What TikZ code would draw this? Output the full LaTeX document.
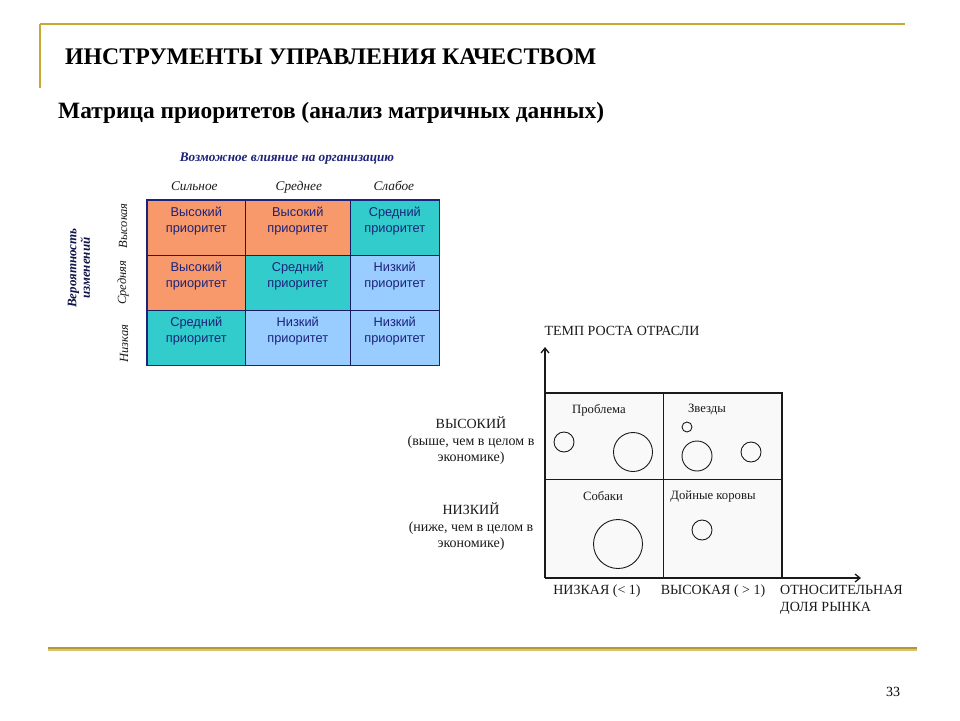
\documentclass[tikz,border=0pt]{standalone}
\usepackage{fontspec}
\setmainfont{Liberation Serif}
\newfontfamily\arialf{Liberation Sans}
\usetikzlibrary{arrows.meta}
\definecolor{gold}{HTML}{C9A835}
\definecolor{corange}{HTML}{F7996B}
\definecolor{cteal}{HTML}{33CCCC}
\definecolor{cblue}{HTML}{99CCFF}
\definecolor{navy}{HTML}{1B237A}
\definecolor{ink}{HTML}{1A1A1A}
\begin{document}
\begin{tikzpicture}[x=1pt,y=-1pt,
  cell/.style={draw=navy!80!black, line width=0.6pt, anchor=north west, inner sep=0pt, minimum height=55pt},
  celltext/.style={anchor=north, align=center, inner sep=0pt, text=navy, font=\arialf\fontsize{12.8}{16}\selectfont},
  colhead/.style={font=\itshape\fontsize{13.3}{15}\selectfont, text=ink, inner sep=0pt, anchor=base},
  rowhead/.style={font=\itshape\fontsize{12.5}{14}\selectfont, text=ink, inner sep=1pt, rotate=90},
  bcg/.style={font=\fontsize{14}{16.5}\selectfont, text=ink, inner sep=1pt, align=center},
  qlab/.style={font=\fontsize{12.7}{14}\selectfont, text=ink, inner sep=1pt},
  ball/.style={circle, draw=ink, line width=0.9pt, inner sep=0pt},
  quad/.style={draw=ink, line width=0.9pt, fill=gray!5, anchor=north west, inner sep=0pt},
  axis/.style={draw=ink, line width=2.2pt, -{Straight Barb[length=5pt,width=8pt,line width=1.3pt]}}
]
\useasboundingbox[fill=white] (0,0) rectangle (960,720);

% gold frame lines
\draw[gold, line width=2.5pt] (40,24) -- (905,24);
\draw[gold, line width=2pt] (40,24) -- (40,88);
\draw[gold!70, line width=4pt] (48,648.5) -- (917,648.5);
\draw[gold!90!black, line width=2pt] (48,647.5) -- (917,647.5);

% titles
\node[anchor=base west, inner sep=0pt, font=\bfseries\fontsize{23.8}{26}\selectfont] (title) at (65,64) {ИНСТРУМЕНТЫ УПРАВЛЕНИЯ КАЧЕСТВОМ};
\node[anchor=base west, inner sep=0pt, font=\bfseries\fontsize{23.4}{26}\selectfont] (subtitle) at (58,118) {Матрица приоритетов (анализ матричных данных)};

% priority matrix
\node[cell, fill=corange, minimum width=98pt] (c11) at (147,200) {};
\node[cell, fill=corange, minimum width=105pt] (c12) at (245,200) {};
\node[cell, fill=cteal, minimum width=89pt] (c13) at (350,200) {};
\node[cell, fill=corange, minimum width=98pt] (c21) at (147,255) {};
\node[cell, fill=cteal, minimum width=105pt] (c22) at (245,255) {};
\node[cell, fill=cblue, minimum width=89pt] (c23) at (350,255) {};
\node[cell, fill=cteal, minimum width=98pt] (c31) at (147,310) {};
\node[cell, fill=cblue, minimum width=105pt] (c32) at (245,310) {};
\node[cell, fill=cblue, minimum width=89pt] (c33) at (350,310) {};
\draw[navy, line width=1.3pt] (c11.north west) rectangle (c33.south east);

\node[celltext] (t11) at ([yshift=-6.5pt]c11.north) {Высокий\\приоритет};
\node[celltext] (t12) at ([yshift=-6.5pt]c12.north) {Высокий\\приоритет};
\node[celltext] (t13) at ([yshift=-6.5pt]c13.north) {Средний\\приоритет};
\node[celltext] (t21) at ([yshift=-6.5pt]c21.north) {Высокий\\приоритет};
\node[celltext] (t22) at ([yshift=-6.5pt]c22.north) {Средний\\приоритет};
\node[celltext] (t23) at ([yshift=-6.5pt]c23.north) {Низкий\\приоритет};
\node[celltext] (t31) at ([yshift=-6.5pt]c31.north) {Средний\\приоритет};
\node[celltext] (t32) at ([yshift=-6.5pt]c32.north) {Низкий\\приоритет};
\node[celltext] (t33) at ([yshift=-6.5pt]c33.north) {Низкий\\приоритет};

\node[colhead] (h1) at ([xshift=-2pt,yshift=10pt]c11.north) {Сильное};
\node[colhead] (h2) at ([xshift=1pt,yshift=10pt]c12.north) {Среднее};
\node[colhead] (h3) at ([xshift=-1pt,yshift=10pt]c13.north) {Слабое};
\node[anchor=base, font=\bfseries\itshape\fontsize{13.2}{15}\selectfont, text=navy, inner sep=0pt] (htop) at (287,161.5) {Возможное влияние на организацию};

\node[rowhead] (r1) at ([xshift=-24pt,yshift=2pt]c11.west) {Высокая};
\node[rowhead] (r2) at ([xshift=-24pt]c21.west) {Средняя};
\node[rowhead] (r3) at ([xshift=-23pt,yshift=-6pt]c31.west) {Низкая};
\node[rotate=90, align=center, font=\bfseries\itshape\fontsize{13}{13.5}\selectfont, text=navy!60!black, inner sep=1pt] (rtop) at (79,268) {Вероятность\\изменений};

% BCG matrix
\coordinate (O) at (545,578);
\coordinate (Ytop) at (545,347);
\coordinate (Xend) at (861,578);
\node[quad, minimum width=118pt, minimum height=86pt] (q11) at (545,393) {};
\node[quad, minimum width=118pt, minimum height=86pt] (q12) at (663,393) {};
\node[quad, minimum width=118pt, minimum height=99pt] (q21) at (545,479) {};
\node[quad, minimum width=118pt, minimum height=99pt] (q22) at (663,479) {};
\draw[ink, line width=2.2pt] (q11.north west) -- (q12.north east) -- (q22.south east);
\draw[axis] (O) -- (Ytop);
\draw[axis] (O) -- (Xend);

\node[qlab] (lp) at (599,410) {Проблема};
\node[qlab] (lz) at (707,410) {Звезды};
\node[qlab] (ls) at (603,496) {Собаки};
\node[qlab] (lk) at (713,496) {Дойные коровы};

\node[ball, minimum size=20pt] (b1) at (564,442) {};
\node[ball, minimum size=39pt] (b2) at (633,452) {};
\node[ball, minimum size=10pt] (b3) at (687,427) {};
\node[ball, minimum size=30pt] (b4) at (697,456) {};
\node[ball, minimum size=20pt] (b5) at (751,452) {};
\node[ball, minimum size=49pt] (b6) at (618,544) {};
\node[ball, minimum size=20pt] (b7) at (702,530) {};

\node[bcg] (yl) at (622,331) {ТЕМП РОСТА ОТРАСЛИ};
\node[bcg] (hi) at (471,441) {ВЫСОКИЙ\\(выше, чем в целом в\\экономике)};
\node[bcg] (lo) at (471,527) {НИЗКИЙ\\(ниже, чем в целом в\\экономике)};
\node[bcg] (xl1) at (597,591) {НИЗКАЯ (< 1)};
\node[bcg] (xl2) at (713,591) {ВЫСОКАЯ ( > 1)};
\node[bcg, anchor=north west, align=left] (xl3) at (779,584.5) {ОТНОСИТЕЛЬНАЯ\\ДОЛЯ РЫНКА};

\node[font=\fontsize{14}{16}\selectfont, inner sep=1pt] (pg) at (893,692) {33};
\end{tikzpicture}
\end{document}
